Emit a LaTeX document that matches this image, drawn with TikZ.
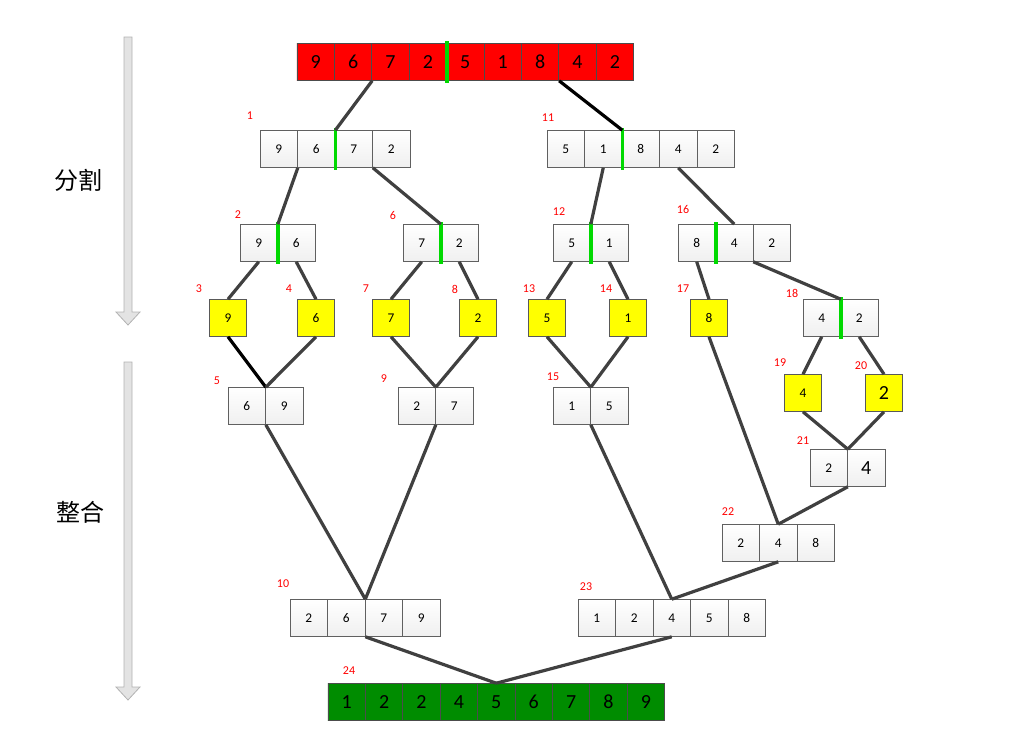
\documentclass[tikz,border=0pt]{standalone}
\usepackage{fontspec}
\setmainfont{Carlito}
\newfontfamily\cjk{Noto Sans CJK SC}
\begin{document}
\begin{tikzpicture}[x=0.75pt,y=-0.75pt,
  cell/.style={draw=gray!75!black,line width=0.5pt,top color=white,bottom color=gray!12,minimum width=28.1pt,minimum height=27.7pt,inner sep=0pt,font=\fontsize{10}{12}\selectfont},
  rcell/.style={cell,top color=red,bottom color=red,draw=black!70,font=\fontsize{15}{18}\selectfont},
  gcell/.style={cell,top color=green!55!black,bottom color=green!55!black,draw=black!70,font=\fontsize{15}{18}\selectfont},
  ycell/.style={cell,top color=yellow,bottom color=yellow,draw=gray!70!black},
  big/.style={font=\fontsize{15}{18}\selectfont},
  lab/.style={text=red,font=\fontsize{9}{11}\selectfont,inner sep=0pt},
  con/.style={draw=black!75,line width=2.4pt},
  bcon/.style={draw=black,line width=2.4pt},
  split/.style={draw=green!85!black,line width=2.6pt},
  barrow/.style={fill=gray!22,draw=gray!60,line width=0.6pt}]
\useasboundingbox (0,0) rectangle (1011,729);
% side arrows
\draw[barrow] (124,37) -- (132,37) -- (132,312) -- (140,312) -- (128,325) -- (116,312) -- (124,312) -- cycle;
\draw[barrow] (124,362) -- (132,362) -- (132,687) -- (140,687) -- (128,700) -- (116,687) -- (124,687) -- cycle;
\node[font=\cjk\fontsize{18}{20}\selectfont] (fen) at (78,180) {分割};
\node[font=\cjk\fontsize{18}{20}\selectfont] (zheng) at (80,512) {整合};
% rows
\foreach \v [count=\i] in {9,6,7,2,5,1,8,4,2} \node[rcell] (t\i) at ({297+37.4*(\i-0.5)},62) {\v};
\foreach \v [count=\i] in {9,6,7,2} \node[cell] (a\i) at ({260+37.5*(\i-0.5)},149) {\v};
\foreach \v [count=\i] in {5,1,8,4,2} \node[cell] (b\i) at ({547+37.5*(\i-0.5)},149) {\v};
\foreach \v [count=\i] in {9,6} \node[cell] (c\i) at ({240+37.5*(\i-0.5)},243) {\v};
\foreach \v [count=\i] in {7,2} \node[cell] (d\i) at ({403+37.5*(\i-0.5)},243) {\v};
\foreach \v [count=\i] in {5,1} \node[cell] (e\i) at ({553+37.5*(\i-0.5)},243) {\v};
\foreach \v [count=\i] in {8,4,2} \node[cell] (f\i) at ({678+37.5*(\i-0.5)},243) {\v};
\node[ycell] (y3) at (228,318) {9};
\node[ycell] (y4) at (316,318) {6};
\node[ycell] (y7) at (391,318) {7};
\node[ycell] (y8) at (478,318) {2};
\node[ycell] (y13) at (547,318) {5};
\node[ycell] (y14) at (628,318) {1};
\node[ycell] (y17) at (709,318) {8};
\foreach \v [count=\i] in {4,2} \node[cell] (g\i) at ({803+37.5*(\i-0.5)},318) {\v};
\node[ycell] (y19) at (803,393) {4};
\node[ycell,big] (y20) at (884,393) {2};
\foreach \v [count=\i] in {6,9} \node[cell] (h\i) at ({228+37.5*(\i-0.5)},406) {\v};
\foreach \v [count=\i] in {2,7} \node[cell] (i\i) at ({398+37.5*(\i-0.5)},406) {\v};
\foreach \v [count=\i] in {1,5} \node[cell] (j\i) at ({553+37.5*(\i-0.5)},406) {\v};
\node[cell] (k1) at (828.75,468) {2};
\node[cell,big] (k2) at (866.25,468) {4};
\foreach \v [count=\i] in {2,4,8} \node[cell] (l\i) at ({722+37.5*(\i-0.5)},543) {\v};
\foreach \v [count=\i] in {2,6,7,9} \node[cell] (m\i) at ({290+37.5*(\i-0.5)},618) {\v};
\foreach \v [count=\i] in {1,2,4,5,8} \node[cell] (n\i) at ({578+37.5*(\i-0.5)},618) {\v};
\foreach \v [count=\i] in {1,2,2,4,5,6,7,8,9} \node[gcell] (z\i) at ({328+37.4*(\i-0.5)},702) {\v};
% split bars
\foreach \n in {t4,a2,b2,c1,d1,e1,f1,g1}
  \draw[split] ([yshift=1.5pt]\n.north east) -- ([yshift=-1.5pt]\n.south east);
% connectors
\draw[con] (t2.south east) -- (a2.north east);
\draw[bcon] (t7.south east) -- (b2.north east);
\draw[con] (a1.south east) -- (c1.north east);
\draw[con] (a3.south east) -- (d1.north east);
\draw[con] (b2.south) -- (e1.north east);
\draw[con] (b4.south) -- (f2.north);
\draw[con] (c1.south) -- (y3.north);
\draw[con] (c2.south) -- (y4.north);
\draw[con] (d1.south) -- (y7.north);
\draw[con] (d2.south) -- (y8.north);
\draw[con] (e1.south) -- (y13.north);
\draw[con] (e2.south) -- (y14.north);
\draw[con] (f1.south) -- (y17.north);
\draw[con] (f2.south east) -- (g1.north east);
\draw[con] (g1.south) -- (y19.north);
\draw[con] (g2.south) -- (y20.north);
\draw[bcon] (y3.south) -- (h1.north east);
\draw[con] (y4.south) -- (h1.north east);
\draw[con] (y7.south) -- (i1.north east);
\draw[con] (y8.south) -- (i1.north east);
\draw[con] (y13.south) -- (j1.north east);
\draw[con] (y14.south) -- (j1.north east);
\draw[con] (y19.south) -- (k1.north east);
\draw[con] (y20.south) -- (k1.north east);
\draw[con] (y17.south) -- (l2.north);
\draw[con] (k1.south east) -- (l2.north);
\draw[con] (h1.south east) -- (m2.north east);
\draw[con] (i1.south east) -- (m2.north east);
\draw[con] (j1.south east) -- (n3.north);
\draw[con] (l2.south) -- (n3.north);
\draw[con] (m2.south east) -- (z5.north);
\draw[con] (n3.south) -- (z5.north);
% step labels
\node[lab] (l1) at (250,116) {1};
\node[lab] (l11) at (548,118) {11};
\node[lab] (l2x) at (238,215) {2};
\node[lab] (l6) at (393,215) {6};
\node[lab] (l12) at (559,212) {12};
\node[lab] (l16) at (683,209) {16};
\node[lab] (l3) at (199,289) {3};
\node[lab] (l4) at (289,289) {4};
\node[lab] (l7) at (366,289) {7};
\node[lab] (l8) at (455,289) {8};
\node[lab] (l13) at (529,289) {13};
\node[lab] (l14) at (606,289) {14};
\node[lab] (l17) at (683,289) {17};
\node[lab] (l18) at (792,293) {18};
\node[lab] (l19) at (780,363) {19};
\node[lab] (l20) at (861,366) {20};
\node[lab] (l5) at (217,381) {5};
\node[lab] (l9) at (384,379) {9};
\node[lab] (l15) at (553,377) {15};
\node[lab] (l21) at (803,441) {21};
\node[lab] (l22) at (728,512) {22};
\node[lab] (l10) at (283,584) {10};
\node[lab] (l23) at (586,587) {23};
\node[lab] (l24) at (349,671) {24};
\end{tikzpicture}
\end{document}
